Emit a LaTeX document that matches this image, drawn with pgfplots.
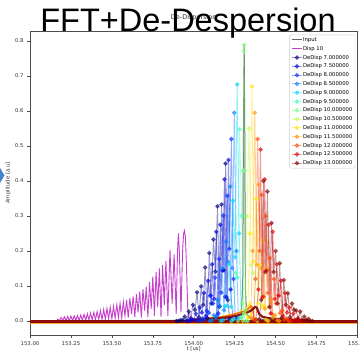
\documentclass[border=0pt]{standalone}
\usepackage{fontspec}
\setmainfont{DejaVu Sans}
\newfontfamily\titlefont{Liberation Sans}
\usepackage{pgfplots}
\pgfplotsset{compat=1.18}
\definecolor{c0}{rgb}{0,0,0.5}
\definecolor{c1}{rgb}{0,0,0.88}
\definecolor{c2}{rgb}{0,0.17,1}
\definecolor{c3}{rgb}{0,0.5,1}
\definecolor{c4}{rgb}{0,0.83,1}
\definecolor{c5}{rgb}{0.22,1,0.75}
\definecolor{c6}{rgb}{0.48,1,0.48}
\definecolor{c7}{rgb}{0.75,1,0.22}
\definecolor{c8}{rgb}{1,0.9,0}
\definecolor{c9}{rgb}{1,0.59,0}
\definecolor{c10}{rgb}{1,0.28,0}
\definecolor{c11}{rgb}{0.88,0,0}
\definecolor{c12}{rgb}{0.5,0,0}
\definecolor{mag}{rgb}{0.78,0.24,0.80}
\pgfplotsset{dd/.style={color=#1, line width=0.9pt, draw opacity=0.42, mark=*, mark size=1.8pt, mark options={solid, fill=#1, draw=#1, opacity=0.55}}}
\begin{document}
\begin{tikzpicture}
\useasboundingbox (0,0) rectangle (360pt,352pt);
\fill[color={rgb,255:red,70;green,130;blue,200}] (0pt,184pt) -- (4.5pt,176.5pt) -- (0pt,169pt) -- cycle;
\begin{axis}[
  at={(30pt,17pt)}, anchor=south west, scale only axis,
  width=327.5pt, height=304pt,
  xmin=153, xmax=155, ymin=-0.04, ymax=0.8286,
  xtick={153,153.25,153.5,153.75,154,154.25,154.5,154.75,155},
  ytick={0,0.1,0.2,0.3,0.4,0.5,0.6,0.7,0.8},
  scaled x ticks=false, scaled y ticks=false,
  xticklabel style={/pgf/number format/.cd, fixed, fixed zerofill, precision=2, assume math mode=true},
  yticklabel style={/pgf/number format/.cd, fixed, fixed zerofill, precision=1, assume math mode=true},
  ticklabel style={font=\fontsize{5.3}{6}\selectfont, text=black!80},
  tick align=outside, major tick length=3pt, xtick pos=lower, ytick pos=left,
  tick style={black!70, line width=0.5pt},
  axis line style={black!70, line width=0.6pt},
  xlabel={t [us]}, ylabel={Amplitude [a.u]},
  label style={font=\fontsize{5.3}{6}\selectfont, text=black!80},
  xlabel style={at={(axis description cs:0.5,-0.047)}, anchor=center},
  ylabel style={at={(axis description cs:-0.067,0.5)}, anchor=center},
  title={De-Dispersion},
  title style={font=\fontsize{6.5}{7}\selectfont, at={(0.5,1)}, anchor=south, yshift=1pt, text=black!80},
  legend style={at={(0.993,0.988)}, anchor=north east, font=\fontsize{5.3}{6}\selectfont,
    draw=black!20, rounded corners=1.5pt, fill=white, fill opacity=0.8, text opacity=1,
    row sep=2.6pt, inner sep=2pt, nodes={inner sep=0.6pt, text height=4pt, text depth=1pt}},
  legend cell align=left,
  legend image code/.code={\draw[mark repeat=2,mark phase=2,#1] plot coordinates {(0pt,0pt) (5pt,0pt) (10pt,0pt)};},
]
\addplot[black, opacity=0.6, line width=1pt] coordinates {(153,0)(154.0,0.002)(154.25,0.006)(154.29,0.02)(154.299,0.1)(154.303,0.5)(154.308,0.79)(154.312,0.5)(154.315,0.1)(154.322,0.02)(154.35,0.006)(154.6,0.002)(155,0)};
\addlegendentry{Input}
\addplot[mag, line width=0.9pt] coordinates {(153.00,0)(153.16,0)(153.17,.005)(153.18,.001)(153.19,.010)(153.20,.001)(153.21,.012)(153.22,.001)(153.23,.013)(153.24,.001)(153.25,.014)(153.26,.001)(153.27,.015)(153.28,.002)(153.29,.016)(153.30,.002)(153.31,.017)(153.32,.002)(153.33,.019)(153.34,.002)(153.35,.021)(153.36,.003)(153.37,.023)(153.38,.003)(153.39,.025)(153.40,.003)(153.41,.027)(153.42,.004)(153.43,.030)(153.44,.004)(153.45,.033)(153.46,.005)(153.47,.036)(153.48,.006)(153.49,.039)(153.50,.006)(153.51,.042)(153.52,.008)(153.53,.046)(153.54,.010)(153.55,.050)(153.56,.008)(153.57,.055)(153.58,.015)(153.59,.060)(153.60,.010)(153.61,.065)(153.62,.020)(153.63,.070)(153.64,.012)(153.65,.077)(153.66,.025)(153.67,.084)(153.68,.010)(153.69,.091)(153.70,.030)(153.71,.098)(153.72,.012)(153.73,.112)(153.74,.035)(153.75,.127)(153.76,.015)(153.77,.140)(153.78,.040)(153.79,.150)(153.80,.012)(153.81,.160)(153.82,.045)(153.83,.172)(153.842,.015)(153.855,.203)(153.868,.050)(153.88,.190)(153.893,.020)(153.901,.20)(153.906,.250)(153.912,.20)(153.922,.025)(153.932,.20)(153.938,.25)(153.943,.258)(153.949,.24)(153.956,.15)(153.963,.04)(153.97,.005)(154.0,.002)(154.5,.001)(155,0)};
\addlegendentry{Disp 10}
\addplot[dd=c0] coordinates {(153.895,0)(153.9075,0.0003)(153.92,0.0026)(153.9325,0.0025)(153.945,0.0125)(153.9575,0.001)(153.97,0.027)(153.9825,0.008)(153.995,0.046)(154.0075,0.032)(154.02,0.082)(154.0325,0.011)(154.045,0.099)(154.0575,0.046)(154.07,0.153)(154.0825,0.009)(154.095,0.194)(154.1075,0.050)(154.12,0.233)(154.1325,0.141)(154.145,0.328)(154.1575,0.041)(154.17,0.333)(154.1825,0.145)(154.195,0.45)(154.2075,0.06)(154.22,0.005)};
\addlegendentry{DeDisp 7.000000}
\addplot[dd=c1] coordinates {(153.9625,0)(153.975,0.0006)(153.9875,0.0045)(154.0,0.003)(154.0125,0.021)(154.025,0.0025)(154.0375,0.039)(154.05,0.024)(154.0625,0.08)(154.075,0.015)(154.0875,0.115)(154.1,0.072)(154.1125,0.162)(154.125,0.063)(154.1375,0.255)(154.15,0.022)(154.1625,0.275)(154.175,0.144)(154.1875,0.405)(154.2,0.068)(154.2125,0.46)(154.225,0.09)(154.24,0.004)};
\addlegendentry{DeDisp 7.500000}
\addplot[dd=c2] coordinates {(154.03,0)(154.0425,0.001)(154.055,0.008)(154.0675,0.004)(154.08,0.029)(154.0925,0.023)(154.105,0.073)(154.1175,0.05)(154.13,0.124)(154.1425,0.016)(154.155,0.177)(154.1675,0.081)(154.18,0.301)(154.1925,0.069)(154.205,0.358)(154.2175,0.206)(154.23,0.52)(154.2425,0.12)(154.255,0.005)};
\addlegendentry{DeDisp 8.000000}
\addplot[dd=c3] coordinates {(154.0975,0)(154.11,0.002)(154.1225,0.0167)(154.135,0.011)(154.1475,0.06)(154.16,0.042)(154.1725,0.15)(154.185,0.031)(154.1975,0.227)(154.21,0.169)(154.2225,0.384)(154.235,0.151)(154.2475,0.595)(154.26,0.2)(154.2725,0.01)};
\addlegendentry{DeDisp 8.500000}
\addplot[dd=c4] coordinates {(154.165,0)(154.1775,0.002)(154.19,0.0425)(154.2025,0.043)(154.215,0.162)(154.2275,0.04)(154.24,0.344)(154.2525,0.182)(154.265,0.676)(154.2775,0.25)(154.29,0.01)};
\addlegendentry{DeDisp 9.000000}
\addplot[dd=c5] coordinates {(154.23,0)(154.2425,0.005)(154.255,0.1375)(154.2675,0.124)(154.28,0.548)(154.2925,0.3)(154.305,0.02)(154.3175,0)};
\addlegendentry{DeDisp 9.500000}
\addplot[dd=c6] coordinates {(154.27,0)(154.285,0.01)(154.295,0.05)(154.302,0.43)(154.306,0.772)(154.308,0.789)(154.311,0.43)(154.318,0.03)(154.33,0.0)};
\addlegendentry{DeDisp 10.000000}
\addplot[dd=c7] coordinates {(154.30,0)(154.3125,0.02)(154.325,0.3)(154.3375,0.55)(154.35,0.16)(154.3625,0.1375)(154.375,0.005)(154.3875,0)};
\addlegendentry{DeDisp 10.500000}
\addplot[dd=c8] coordinates {(154.33,0.01)(154.3425,0.25)(154.355,0.67)(154.3675,0.17)(154.38,0.35)(154.3925,0.05)(154.405,0.16)(154.4175,0.04)(154.43,0.045)(154.4425,0.003)(154.455,0)};
\addlegendentry{DeDisp 11.000000}
\addplot[dd=c9] coordinates {(154.3475,0.01)(154.36,0.2)(154.3725,0.595)(154.385,0.16)(154.3975,0.39)(154.41,0.15)(154.4225,0.23)(154.435,0.035)(154.4475,0.15)(154.46,0.04)(154.4725,0.06)(154.485,0.01)(154.4975,0.017)(154.51,0.002)(154.5225,0)};
\addlegendentry{DeDisp 11.500000}
\addplot[dd=c10] coordinates {(154.365,0.005)(154.3775,0.12)(154.39,0.52)(154.4025,0.2)(154.415,0.36)(154.4275,0.07)(154.44,0.30)(154.4525,0.08)(154.465,0.18)(154.4775,0.02)(154.49,0.12)(154.5025,0.05)(154.515,0.073)(154.5275,0.023)(154.54,0.03)(154.5525,0.004)(154.565,0.008)(154.5775,0.001)(154.59,0)};
\addlegendentry{DeDisp 12.000000}
\addplot[dd=c11] coordinates {(154.38,0.004)(154.395,0.09)(154.4075,0.49)(154.42,0.068)(154.4325,0.405)(154.445,0.144)(154.4575,0.275)(154.47,0.022)(154.4825,0.255)(154.495,0.063)(154.5075,0.162)(154.52,0.072)(154.5325,0.115)(154.545,0.015)(154.5575,0.08)(154.57,0.024)(154.5825,0.039)(154.595,0.0025)(154.6075,0.021)(154.62,0.003)(154.6325,0.0045)(154.645,0.0006)(154.6575,0)};
\addlegendentry{DeDisp 12.500000}
\addplot[dd=c12] coordinates {(154.40,0.005)(154.4125,0.06)(154.425,0.40)(154.4375,0.14)(154.45,0.37)(154.4625,0.04)(154.475,0.28)(154.4875,0.14)(154.50,0.2)(154.5125,0.05)(154.525,0.165)(154.5375,0.01)(154.55,0.117)(154.5625,0.046)(154.575,0.079)(154.5875,0.011)(154.60,0.05)(154.6125,0.032)(154.625,0.03)(154.6375,0.008)(154.65,0.027)(154.6625,0.002)(154.675,0.0125)(154.6875,0.0025)(154.70,0.006)(154.7125,0.0003)(154.725,0)};
\addlegendentry{DeDisp 13.000000}
% slow components near the baseline
\addplot[forget plot, c6, line width=1.2pt, opacity=0.7] coordinates {(154.2,-0.004)(154.4,-0.005)(154.6,-0.006)};
\addplot[forget plot, c3, line width=1.2pt, opacity=0.7, smooth] coordinates {(153.95,0.0)(154.1,0.004)(154.2,0.008)(154.26,0.012)(154.28,0.0)};
\addplot[forget plot, c8, line width=1.5pt, opacity=0.8, smooth] coordinates {(154.0,0.004)(154.1,0.008)(154.2,0.015)(154.28,0.025)(154.33,0.04)(154.345,0.05)(154.355,0.0)};
\addplot[forget plot, c10, line width=1.5pt, opacity=0.8, smooth] coordinates {(154.0,0.005)(154.15,0.01)(154.25,0.02)(154.32,0.03)(154.355,0.042)(154.37,0.0)};
\addplot[forget plot, c12, line width=2.2pt, opacity=0.9, smooth] coordinates {(154.0,0.004)(154.2,0.01)(154.3,0.02)(154.35,0.03)(154.375,0.04)(154.385,0.038)(154.40,0.02)(154.42,0.012)(154.5,0.006)(154.7,0.002)};
\addplot[forget plot, c9, line width=1pt, opacity=0.8] coordinates {(153,-0.007)(155,-0.007)};
\addplot[forget plot, color={rgb,255:red,140;green,10;blue,10}, line width=3pt] coordinates {(153,-0.002)(155,-0.002)};
\end{axis}
\node[font=\titlefont\fontsize{32.5}{33}\selectfont, anchor=base, inner sep=0pt] at (188pt,320.3pt) {FFT+De-Despersion};
\end{tikzpicture}
\end{document}
